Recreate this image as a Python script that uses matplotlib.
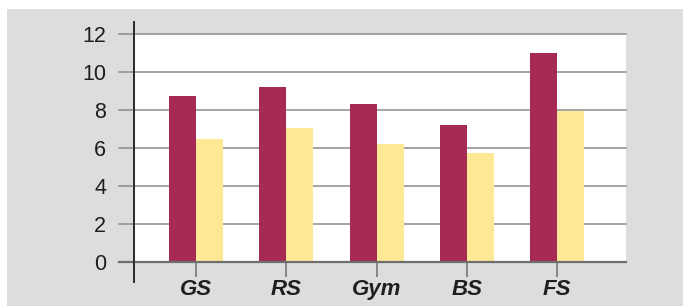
import matplotlib
matplotlib.use("Agg")
import matplotlib.pyplot as plt
from matplotlib.patches import Rectangle
from matplotlib.lines import Line2D
import numpy as np

categories = ["GS", "RS", "Gym", "BS", "FS"]
series_a = [8.75, 9.2, 8.3, 7.2, 11.0]
series_b = [6.45, 7.05, 6.2, 5.72, 7.95]
yticks = [0, 2, 4, 6, 8, 10, 12]

red = "#A62A55"
yellow = "#FDE994"
bg = "#DCDDDF"

plt.rcParams["font.family"] = ["Liberation Sans Narrow", "Liberation Sans", "DejaVu Sans"]

fig = plt.figure(figsize=(6.83, 3.06), dpi=100, facecolor="white")
fig.patches.append(Rectangle((7 / 683, 0), 1, (306 - 9) / 306, transform=fig.transFigure,
                             facecolor=bg, edgecolor="none", zorder=-10))

ax = fig.add_axes([134 / 683, (306 - 261.5) / 306, 492 / 683, 227.2 / 306])
ax.set_facecolor("white")

x = np.arange(len(categories))
w = 0.3
ax.bar(x - w / 2, series_a, width=w, color=red, zorder=3)
ax.bar(x + w / 2, series_b, width=w, color=yellow, zorder=3)

ax.set_xlim(-0.687, 4.76)
ax.set_ylim(0, 12)

for s in ax.spines.values():
    s.set_visible(False)

for v in yticks[1:]:
    ax.plot([-0.03, 1], [v, v], color="#8C8C8C", lw=1.1, transform=ax.get_yaxis_transform(),
            clip_on=False, zorder=2)
ax.plot([-0.03, 1], [0, 0], color="#6E6E6E", lw=1.6, transform=ax.get_yaxis_transform(),
        clip_on=False, zorder=4)
ax.add_line(Line2D([0, 0], [-0.09, 1.052], color="#2A2A2A", lw=1.4,
                   transform=ax.transAxes, clip_on=False, zorder=5))

ax.set_yticks(yticks)
ax.set_yticklabels([str(v) for v in yticks], fontsize=15.5, color="#1E1E1E")
ax.tick_params(axis="y", length=0, pad=20)

ax.set_xticks(x)
ax.set_xticklabels(categories, fontsize=16, fontweight="bold", fontstyle="italic",
                   color="#1E1E1E", family=["Liberation Sans", "DejaVu Sans"])
ax.tick_params(axis="x", length=10.8, width=1.1, color="#6E6E6E", pad=2)

fig.savefig("out.png", dpi=100, facecolor="white")
